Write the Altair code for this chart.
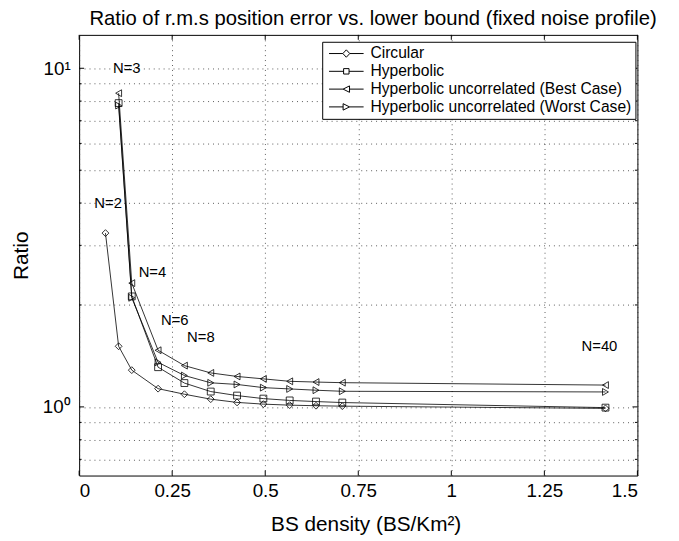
import altair as alt
import pandas as pd

# BS density values (BS/Km^2) for N = 2,3,4,6,8,10,...,20,40
density = [0.0707, 0.1061, 0.1414, 0.2121, 0.2828, 0.3536, 0.4243, 0.4950,
           0.5657, 0.6364, 0.7071, 1.4142]
circular = [3.26, 1.51, 1.284, 1.132, 1.09, 1.054, 1.031, 1.019, 1.012, 1.008, 1.005, 0.99]
hyperbolic = [7.89, 2.12, 1.31, 1.176, 1.11, 1.08, 1.058, 1.045, 1.037, 1.03, 0.995]
best_case = [8.44, 2.32, 1.47, 1.324, 1.26, 1.23, 1.21, 1.19, 1.184, 1.179, 1.16]
worst_case = [7.76, 2.10, 1.354, 1.238, 1.178, 1.165, 1.14, 1.13, 1.12, 1.112, 1.107]
series_names = ["Circular", "Hyperbolic",
                "Hyperbolic uncorrelated (Best Case)",
                "Hyperbolic uncorrelated (Worst Case)"]

ann_text = ["N=3", "N=2", "N=4", "N=6", "N=8", "N=40"]
ann_x = [0.128, 0.078, 0.197, 0.257, 0.327, 1.398]
ann_y = [10.04, 4.0, 2.505, 1.803, 1.612, 1.508]

x_ticks = [0, 0.25, 0.5, 0.75, 1, 1.25, 1.5]
y_major = [1, 10]
y_minor = [0.7, 0.8, 0.9, 2, 3, 4, 5, 6, 7, 8, 9]

FONT = "Liberation Sans"
W, H = 565, 446

rows = []
for name, xs, ys in [
    (series_names[0], density, circular),
    (series_names[1], density[1:], hyperbolic),
    (series_names[2], density[1:], best_case),
    (series_names[3], density[1:], worst_case),
]:
    for xv, yv in zip(xs, ys):
        rows.append({"series": name, "x": xv, "y": yv})
df = pd.DataFrame(rows)
ann_df = pd.DataFrame({"label": ann_text, "x": ann_x, "y": ann_y})
xt_df = pd.DataFrame({"x": x_ticks})
ymaj_df = pd.DataFrame({"y": y_major})
ymin_df = pd.DataFrame({"y": y_minor})

xscale = alt.Scale(domain=[0, 1.5], nice=False, zero=False)
yscale = alt.Scale(type="log", domain=[0.627, 12.55], nice=False)

x_enc = alt.X("x:Q", scale=xscale, axis=alt.Axis(
    values=x_ticks, labelExpr="'' + datum.value", grid=True, ticks=False, domain=False,
    tickSize=0, labelPadding=6.5, labelFontSize=19, labelOverlap=False,
    title="BS density (BS/Km\u00b2)", titleFontSize=21, titlePadding=13, titleX=290))
y_enc = alt.Y("y:Q", scale=yscale, axis=alt.Axis(
    values=sorted(y_minor + y_major), grid=True, ticks=False, domain=False,
    tickSize=0, labelPadding=9, labelFontSize=19, labelOverlap=False,
    labelExpr="datum.value == 1 ? '10\u2070' : (datum.value == 10 ? '10\u00b9' : '')",
    title="Ratio", titleFontSize=21, titlePadding=11))

lines = alt.Chart(df).mark_line(color="black", strokeWidth=0.8).encode(
    x=x_enc, y=y_enc, detail="series:N")

points = alt.Chart(df).mark_point(filled=False, color="black", strokeWidth=0.8, size=48, opacity=1).encode(
    x=x_enc, y=y_enc,
    shape=alt.Shape("series:N", scale=alt.Scale(
        domain=series_names,
        range=["diamond", "square", "triangle-left", "triangle-right"]), legend=None))

legend_paths = [
    "M-1,0L1.8,0M3.2,0L6,0M2.5,-0.75L3.2,0L2.5,0.75L1.8,0Z",
    "M-1,0L1.95,0M3.05,0L6,0M1.95,-0.55H3.05V0.55H1.95Z",
    "M-1,0L1.85,0M3.15,0L6,0M1.85,0L3.15,-0.65L3.15,0.65Z",
    "M-1,0L1.85,0M3.15,0L6,0M3.15,0L1.85,-0.65L1.85,0.65Z",
]
legend_layer = alt.Chart(df).transform_filter("false").mark_point(
    filled=False, color="black", strokeWidth=1, size=100, opacity=1).encode(
    x=x_enc, y=y_enc,
    shape=alt.Shape("series:N", scale=alt.Scale(domain=series_names, range=legend_paths),
                    legend=alt.Legend(title=None, orient="none", legendX=246, legendY=7,
                                      padding=4, rowPadding=1, symbolSize=100,
                                      symbolStrokeWidth=1, symbolStrokeColor="black",
                                      labelOffset=29, labelFontSize=15.8, labelFont=FONT,
                                      labelLimit=400,
                                      labelColor="black", strokeColor="black",
                                      fillColor="white", cornerRadius=0)))

text = alt.Chart(ann_df).mark_text(font=FONT, fontSize=15, color="black",
                                   align="center", baseline="middle").encode(
    x=alt.X("x:Q", scale=xscale), y=alt.Y("y:Q", scale=yscale), text="label:N")

tick_style = dict(color="black", strokeWidth=1)
xt_bottom = alt.Chart(xt_df).mark_rule(**tick_style).encode(
    x=alt.X("x:Q", scale=xscale), y=alt.value(H), y2=alt.value(H - 5))
xt_top = alt.Chart(xt_df).mark_rule(**tick_style).encode(
    x=alt.X("x:Q", scale=xscale), y=alt.value(0), y2=alt.value(5))
ymaj_left = alt.Chart(ymaj_df).mark_rule(**tick_style).encode(
    y=alt.Y("y:Q", scale=yscale), x=alt.value(0), x2=alt.value(5))
ymaj_right = alt.Chart(ymaj_df).mark_rule(**tick_style).encode(
    y=alt.Y("y:Q", scale=yscale), x=alt.value(W - 5), x2=alt.value(W))
ymin_left = alt.Chart(ymin_df).mark_rule(**tick_style).encode(
    y=alt.Y("y:Q", scale=yscale), x=alt.value(0), x2=alt.value(2.5))
ymin_right = alt.Chart(ymin_df).mark_rule(**tick_style).encode(
    y=alt.Y("y:Q", scale=yscale), x=alt.value(W - 2.5), x2=alt.value(W))

chart = alt.layer(
    lines, points, text, xt_bottom, xt_top, ymaj_left, ymaj_right, ymin_left, ymin_right,
    legend_layer
).resolve_scale(shape="independent").properties(
    width=W, height=H,
    autosize=alt.AutoSizeParams(type="none"),
    padding={"left": 72, "top": 24, "right": 34, "bottom": 59},
    title=alt.TitleParams(
        "Ratio of r.m.s position error vs. lower bound (fixed noise profile)",
        font=FONT, fontSize=20.5, fontWeight="normal", color="black",
        anchor="middle", frame="group", offset=5, dx=15),
).configure_view(stroke="black", strokeWidth=1).configure_axis(
    labelFont=FONT, titleFont=FONT, labelColor="black", titleColor="black",
    titleFontWeight="normal", gridColor="#333", gridDash=[1, 4], gridWidth=0.8,
    gridOpacity=1
)

chart.save("out.html", embed_options={"renderer": "svg", "actions": False})
